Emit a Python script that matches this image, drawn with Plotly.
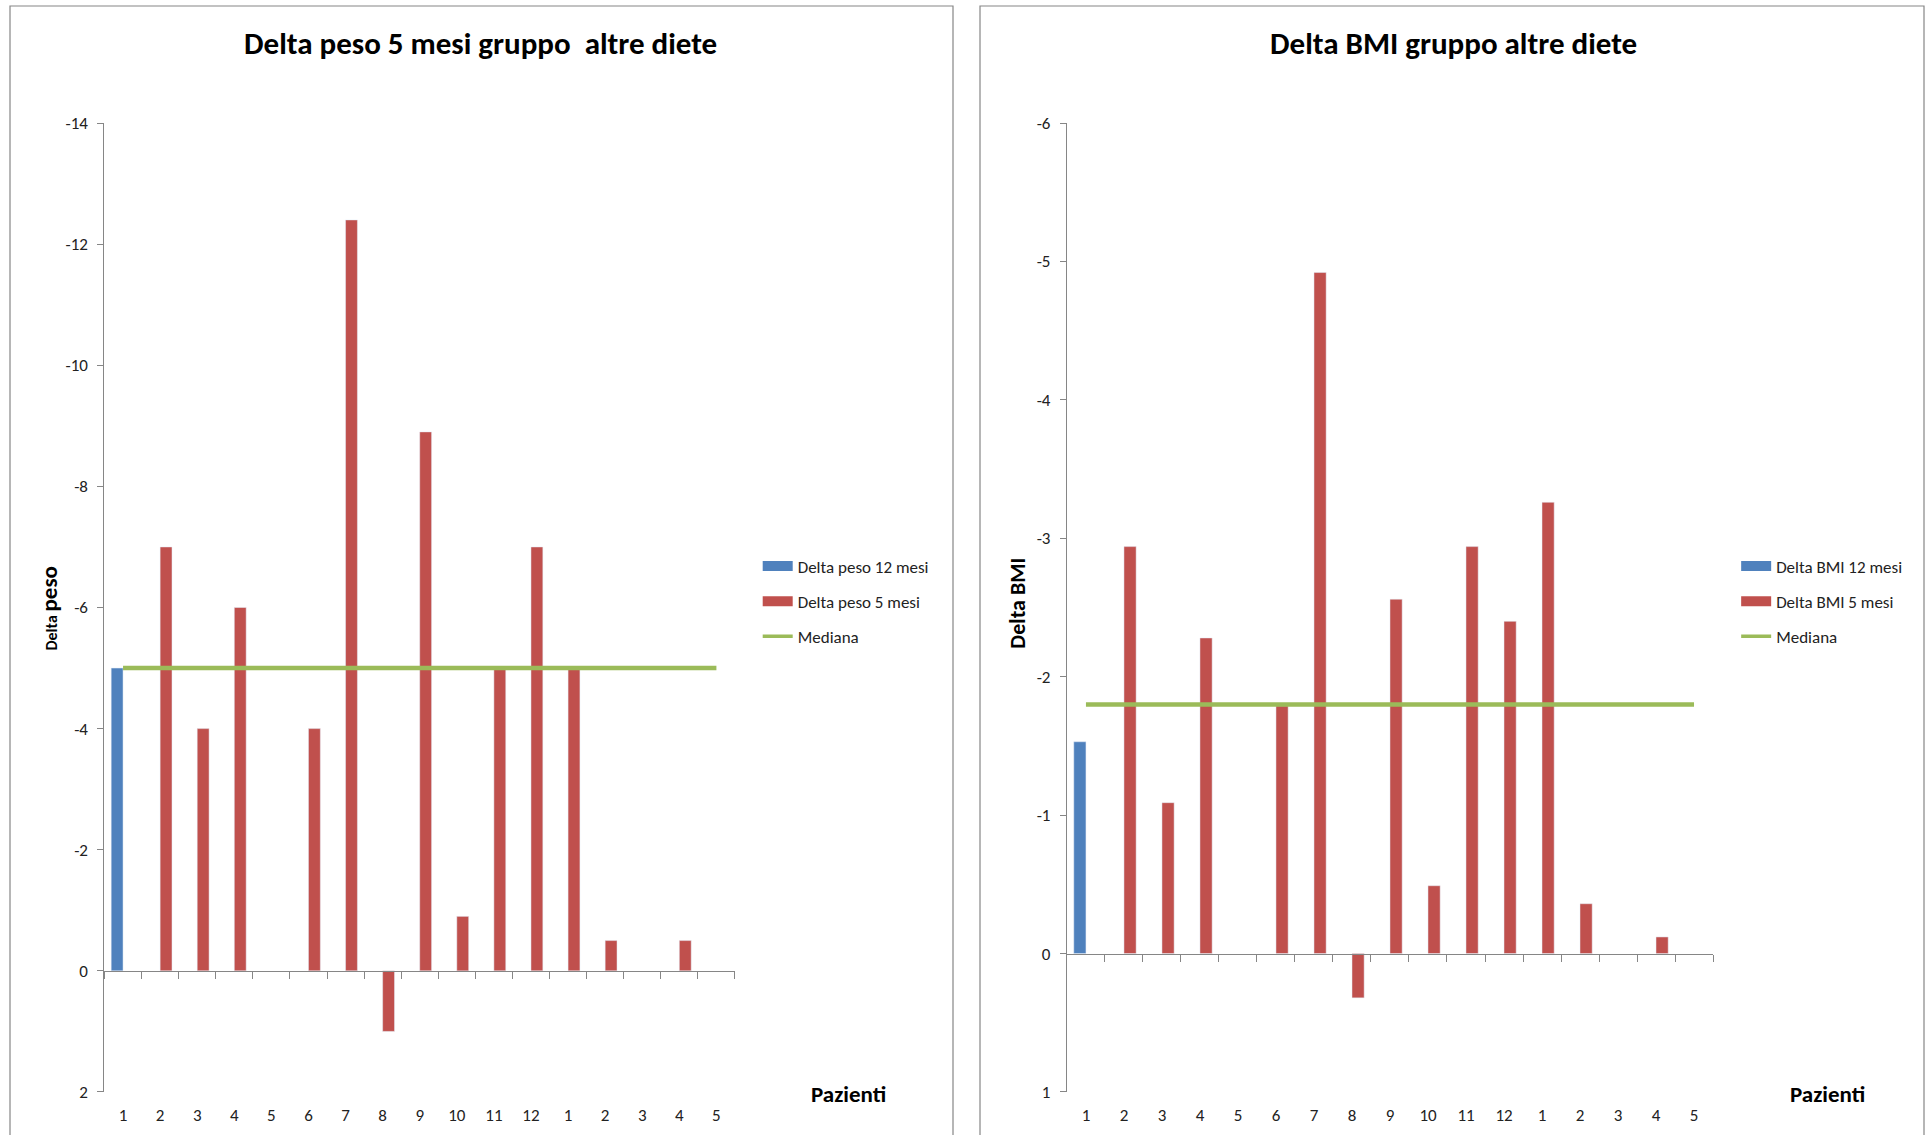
import plotly.graph_objects as go

# Patient labels along the x axis (two cohorts: 1-12, then 1-5)
pazienti = ["1", "2", "3", "4", "5", "6", "7", "8", "9", "10", "11", "12", "1", "2", "3", "4", "5"]

# Weight change (kg); axis is shown reversed, so losses point upward
peso_12_mesi = [-5, None, None, None, None, None, None, None, None, None, None, None, None, None, None, None, None]
peso_5_mesi = [None, -7, -4, -6, None, -4, -12.4, 1, -8.9, -0.9, -5, -7, -5, -0.5, None, -0.5, None]
peso_mediana = -5

# BMI change
bmi_12_mesi = [-1.53, None, None, None, None, None, None, None, None, None, None, None, None, None, None, None, None]
bmi_5_mesi = [None, -2.94, -1.09, -2.28, None, -1.79, -4.92, 0.32, -2.56, -0.49, -2.94, -2.40, -3.26, -0.36, None, -0.12, None]
bmi_mediana = -1.8

peso_range = [2, -14]
peso_ticks = [2, 0, -2, -4, -6, -8, -10, -12, -14]
bmi_range = [1, -6]
bmi_ticks = [1, 0, -1, -2, -3, -4, -5, -6]

BLUE = "#4F81BD"
RED = "#C0504D"
GREEN = "#9BBB59"
GRAY = "#868686"
FONT = "Liberation Sans Narrow, Carlito, Liberation Sans, Arial, sans-serif"

W, H = 1928, 1135
Y_DOM = [0.0379, 0.8916]
X_DOM_L = [0.0542, 0.3812]
X_DOM_R = [0.5534, 0.8885]

xs = list(range(len(pazienti)))

fig = go.Figure()


def add_panel(n, x_dom, y_range, y_ticks, s12, s5, mediana, name12, name5, legend_name, legend_x):
    xa = "x" if n == 1 else f"x{n}"
    ya = "y" if n == 1 else f"y{n}"
    xov = f"x{n + 2}"
    fig.add_trace(go.Bar(x=xs, y=s12, marker_color=BLUE, name=name12, showlegend=False,
                         xaxis=xa, yaxis=ya))
    fig.add_trace(go.Bar(x=xs, y=s5, marker_color=RED, name=name5, showlegend=False,
                         xaxis=xa, yaxis=ya))
    # Median line drawn on the overlay axis, which sits on top of the bars
    fig.add_trace(go.Scatter(x=[xs[0], xs[-1]], y=[mediana, mediana], mode="lines",
                             line=dict(color=GREEN, width=4.5), showlegend=False,
                             xaxis=xov, yaxis=ya))
    # Legend entries as wide swatches
    for nm, col, wd in [(name12, BLUE, 10), (name5, RED, 10), ("Mediana", GREEN, 3.5)]:
        fig.add_trace(go.Scatter(x=[None], y=[None], mode="lines", name=nm,
                                 line=dict(color=col, width=wd), legend=legend_name,
                                 legendgroup=legend_name + nm, xaxis=xa, yaxis=ya))

    lo, hi = y_range
    zero_pos = Y_DOM[0] + (lo - 0) / (lo - hi) * (Y_DOM[1] - Y_DOM[0])

    xkey = "xaxis" if n == 1 else f"xaxis{n}"
    ykey = "yaxis" if n == 1 else f"yaxis{n}"
    fig.layout[xkey] = dict(domain=x_dom, range=[-0.5, len(xs) - 0.5], anchor=ya,
                            tickmode="array", tickvals=xs, ticktext=pazienti,
                            showline=False, showgrid=False, zeroline=False, ticks="",
                            ticklabelstandoff=11, automargin=False,
                            tickfont=dict(family=FONT, size=17, color="#222"))
    fig.layout[ykey] = dict(domain=Y_DOM, range=y_range, anchor=xa, tickmode="array",
                            tickvals=y_ticks, ticktext=[str(t) for t in y_ticks],
                            showline=True, linecolor=GRAY, linewidth=1.2,
                            ticks="outside", ticklen=6, tickcolor=GRAY, showgrid=False,
                            zeroline=False, ticklabelstandoff=6, automargin=False,
                            tickfont=dict(family=FONT, size=17, color="#222"))
    fig.layout[f"xaxis{n + 2}"] = dict(domain=x_dom, range=[-0.5, len(xs) - 0.5],
                                       overlaying=xa, anchor="free", position=zero_pos,
                                       tickmode="array",
                                       tickvals=[i - 0.5 for i in range(len(xs) + 1)],
                                       showticklabels=False, showline=True, linecolor=GRAY,
                                       linewidth=1.2, ticks="outside", ticklen=7,
                                       tickcolor=GRAY, showgrid=False, zeroline=False,
                                       automargin=False)
    fig.layout[legend_name] = dict(x=legend_x, y=0.470, xanchor="left", yanchor="middle",
                                   bgcolor="rgba(0,0,0,0)", tracegroupgap=10,
                                   traceorder="grouped",
                                   font=dict(family=FONT, size=17, color="#222"))


add_panel(1, X_DOM_L, peso_range, peso_ticks, peso_12_mesi, peso_5_mesi, peso_mediana,
          "Delta peso 12 mesi", "Delta peso 5 mesi", "legend", 0.393)
add_panel(2, X_DOM_R, bmi_range, bmi_ticks, bmi_12_mesi, bmi_5_mesi, bmi_mediana,
          "Delta BMI 12 mesi", "Delta BMI 5 mesi", "legend2", 0.9005)

annotations = [
    dict(text="<b>Delta peso 5 mesi gruppo  altre diete</b>", x=0.249, y=0.962,
         font=dict(size=31)),
    dict(text="<b>Delta BMI gruppo altre diete</b>", x=0.754, y=0.962, font=dict(size=31)),
    dict(text="<b>Delta </b><b><span style='font-size:23px'>peso</span></b>", x=0.0255,
         y=0.464, textangle=-90, font=dict(size=16)),
    dict(text="<b>Delta BMI</b>", x=0.528, y=0.469, textangle=-90, font=dict(size=22)),
    dict(text="<b>Pazienti</b>", x=0.44, y=0.036, font=dict(size=23)),
    dict(text="<b>Pazienti</b>", x=0.948, y=0.036, font=dict(size=23)),
]
for a in annotations:
    a.update(xref="paper", yref="paper", showarrow=False, xanchor="center", yanchor="middle")
    a["font"].update(family=FONT, color="#000")

shapes = [
    dict(type="rect", xref="paper", yref="paper", x0=10 / W, x1=953 / W, y0=-0.05,
         y1=1 - 6 / H, line=dict(color=GRAY, width=1.2)),
    dict(type="rect", xref="paper", yref="paper", x0=980 / W, x1=1924 / W, y0=-0.05,
         y1=1 - 6 / H, line=dict(color=GRAY, width=1.2)),
]

fig.update_layout(width=W, height=H, margin=dict(l=0, r=0, t=0, b=0, pad=0, autoexpand=False),
                  paper_bgcolor="white", plot_bgcolor="white",
                  barmode="group", bargap=0.36, bargroupgap=0,
                  annotations=annotations, shapes=shapes,
                  font=dict(family=FONT))

fig.write_html("out.html")
